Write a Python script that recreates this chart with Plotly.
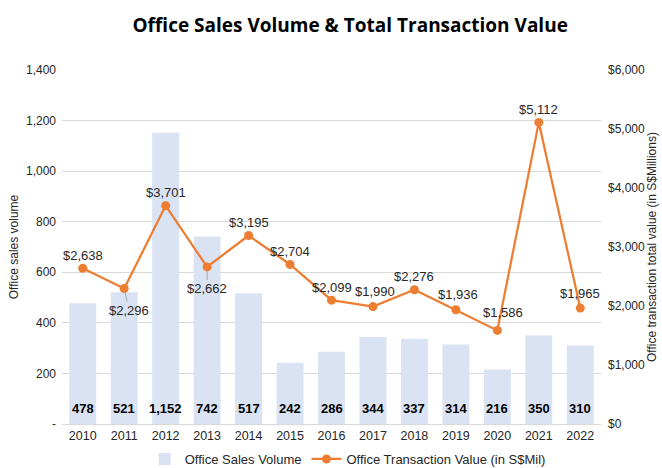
import plotly.graph_objects as go

years = ["2010", "2011", "2012", "2013", "2014", "2015", "2016",
         "2017", "2018", "2019", "2020", "2021", "2022"]
sales_volume = [478, 521, 1152, 742, 517, 242, 286, 344, 337, 314, 216, 350, 310]
transaction_value = [2638, 2296, 3701, 2662, 3195, 2704, 2099, 1990, 2276, 1936, 1586, 5112, 1965]

left_ticks = [0, 200, 400, 600, 800, 1000, 1200, 1400]
left_ticktext = ["-", "200", "400", "600", "800", "1,000", "1,200", "1,400"]
right_ticks = [0, 1000, 2000, 3000, 4000, 5000, 6000]
right_ticktext = ["$0", "$1,000", "$2,000", "$3,000", "$4,000", "$5,000", "$6,000"]

# label placement (pixel offsets) for the line labels
label_below = {"2011": (5, 20), "2013": (0, 20)}
label_shift = {"2020": (6, 18), "2017": (2, 15), "2019": (2, 15), "2022": (0, 15)}

FONT = "Liberation Sans, Arial, sans-serif"
TXT = "#262626"
W, H = 662, 468
ML, MR, MT, MB = 62, 61, 70, 44

xpos = list(range(len(years)))

fig = go.Figure()
fig.add_trace(go.Bar(
    x=xpos, y=sales_volume, name="Office Sales Volume",
    marker=dict(color="#dae3f3", line=dict(width=0)),
    width=0.65,
))
fig.add_trace(go.Scatter(
    x=xpos, y=transaction_value, name="Office Transaction Value (in S$Mil)",
    yaxis="y2", mode="lines+markers",
    line=dict(color="#ed7d31", width=2.25),
    marker=dict(color="#ed7d31", size=9),
))

annotations = []
for i, (yr, v) in enumerate(zip(years, sales_volume)):
    annotations.append(dict(
        x=i, y=0, xref="x", yref="y", text=f"<b>{v:,}</b>",
        showarrow=False, yshift=16, yanchor="middle",
        font=dict(family=FONT, size=13, color="#000000"),
    ))
for i, (yr, v) in enumerate(zip(years, transaction_value)):
    if yr in label_below:
        dx, dy = label_below[yr]
        annotations.append(dict(
            x=i, y=v, xref="x", yref="y2", text=f"${v:,}",
            showarrow=True, arrowhead=0, arrowwidth=1, arrowcolor="#a6a6a6",
            ax=dx, ay=dy + 2, standoff=4,
            font=dict(family=FONT, size=13, color=TXT),
        ))
    else:
        dx, dy = label_shift.get(yr, (0, 13))
        annotations.append(dict(
            x=i, y=v, xref="x", yref="y2", text=f"${v:,}",
            showarrow=False, xshift=dx, yshift=dy, yanchor="middle",
            font=dict(family=FONT, size=13, color=TXT),
        ))

fig.update_layout(
    width=W, height=H,
    margin=dict(l=ML, r=MR, t=MT, b=MB, autoexpand=False),
    paper_bgcolor="white", plot_bgcolor="white",
    font=dict(family=FONT, size=12, color=TXT),
    title=dict(
        text="<b>Office Sales Volume & Total Transaction Value</b>",
        x=0.529, xanchor="center", y=1 - 25 / H, yanchor="middle",
        font=dict(family="Open Sans, Lato, sans-serif", size=19, color="#000000"),
    ),
    xaxis=dict(
        type="linear", range=[-0.5, len(years) - 0.5],
        tickvals=xpos, ticktext=years, automargin=False,
        showgrid=False, showline=True, linecolor="#d9d9d9", linewidth=1,
        zeroline=False, ticks="", tickfont=dict(family=FONT, size=12.5, color=TXT),
    ),
    yaxis=dict(
        range=[0, 1400], tickvals=left_ticks, ticktext=left_ticktext,
        showgrid=True, gridcolor="#d9d9d9", gridwidth=1, zeroline=False,
        ticks="", ticklabelstandoff=5, automargin=False,
        tickfont=dict(family=FONT, size=12, color=TXT),
        title=dict(text="Office sales volume", standoff=4,
                   font=dict(family=FONT, size=12, color=TXT)),
    ),
    yaxis2=dict(
        range=[0, 6000], tickvals=right_ticks, ticktext=right_ticktext,
        overlaying="y", side="right", showgrid=False, zeroline=False,
        ticks="", ticklabelstandoff=6, automargin=False,
        tickfont=dict(family=FONT, size=12, color=TXT),
        title=dict(text="Office transaction total value (in S$Millions)", standoff=0,
                   font=dict(family=FONT, size=12, color=TXT)),
    ),
    legend=dict(
        orientation="h", x=0.53, xanchor="center",
        yref="container", y=1 - 459 / H, yanchor="middle",
        font=dict(family=FONT, size=13, color=TXT),
        bgcolor="rgba(0,0,0,0)", itemwidth=30, tracegroupgap=0,
    ),
    bargap=0.35,
    annotations=annotations,
    showlegend=True,
)

fig.write_html("out.html", config={"displayModeBar": False},
               post_script="document.body.style.margin='0';")
